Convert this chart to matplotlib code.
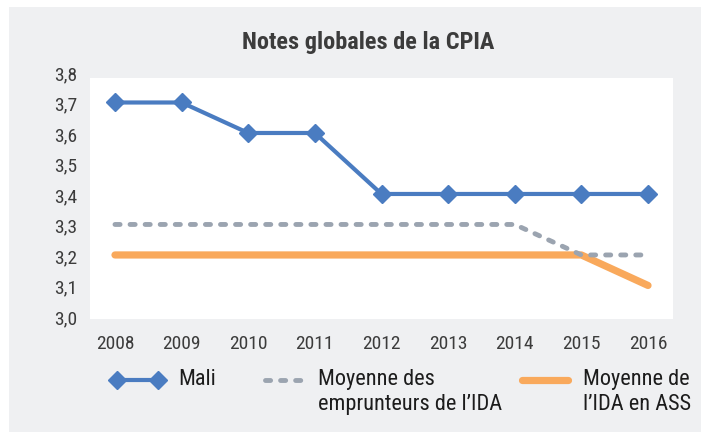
import matplotlib
matplotlib.use("Agg")
import matplotlib.pyplot as plt
from matplotlib.lines import Line2D
from matplotlib.patches import Rectangle
from matplotlib.ticker import FixedLocator, FuncFormatter

# data
years = ["2008", "2009", "2010", "2011", "2012", "2013", "2014", "2015", "2016"]
mali = [3.7, 3.7, 3.6, 3.6, 3.4, 3.4, 3.4, 3.4, 3.4]
ida_borrowers = [3.3, 3.3, 3.3, 3.3, 3.3, 3.3, 3.3, 3.2, 3.2]
ida_ssa = [3.2, 3.2, 3.2, 3.2, 3.2, 3.2, 3.2, 3.2, 3.1]
yticks = [3.0, 3.1, 3.2, 3.3, 3.4, 3.5, 3.6, 3.7, 3.8]

title = "Notes globales de la CPIA"
labels = ["Mali", "Moyenne des\nemprunteurs de l\u2019IDA", "Moyenne de\nl\u2019IDA en ASS"]

BLUE, GREY, ORANGE = "#4a7cc1", "#9ba4b0", "#f9a95c"
BG, TXT = "#eff0f2", "#3c3c3c"
FONT = ["Roboto Condensed", "Liberation Sans Narrow", "DejaVu Sans"]
plt.rcParams["font.family"] = FONT

W, H = 701, 435
fig = plt.figure(figsize=(W / 100, H / 100), dpi=100)
fig.patch.set_facecolor("white")


def fx(px):
    return px / W


def fy(py):
    return 1 - py / H


# grey panel behind everything
fig.patches.append(Rectangle((fx(9), fy(433)), fx(W - 9), fy(8) - fy(433),
                             transform=fig.transFigure, facecolor=BG,
                             edgecolor="none", zorder=-10))

ax = fig.add_axes([fx(90), fy(320), fx(673) - fx(90), fy(73) - fy(320)])
ax.set_facecolor("none")
# white plotting area (starts a little below the 3,8 tick, as in the source)
ax.add_patch(Rectangle((0, 0), 1, (320 - 79) / (320 - 73), transform=ax.transAxes,
                       facecolor="white", edgecolor="none", zorder=0))

x = list(range(len(years)))
ax.plot(x, ida_ssa, color=ORANGE, lw=5.2, solid_capstyle="round", zorder=2)
ax.plot(x, ida_borrowers, color=GREY, lw=3.5, dash_capstyle="round",
        dashes=(1.05, 2.05), zorder=3)
ax.plot(x, mali, color=BLUE, lw=3, marker="D", markersize=9.5,
        markeredgecolor=BLUE, zorder=4)

ax.set_xlim(-0.375, len(years) - 1 + 0.375)
ax.set_ylim(2.99, 3.8)
ax.xaxis.set_major_locator(FixedLocator(x))
ax.set_xticklabels(years)
ax.yaxis.set_major_locator(FixedLocator(yticks))
ax.yaxis.set_major_formatter(FuncFormatter(lambda v, _: f"{v:.1f}".replace(".", ",")))
ax.tick_params(axis="both", length=0, labelsize=14, colors=TXT)
ax.tick_params(axis="x", pad=11)
ax.tick_params(axis="y", pad=9)
for s in ax.spines.values():
    s.set_visible(False)

fig.text(fx(368), fy(42), title, ha="center", va="center", fontsize=17.5,
         fontweight="bold", color=TXT)

# legend, drawn by hand to keep the Excel-style layout
ly = fy(381)
fig.add_artist(Line2D([fx(117), fx(158)], [ly, ly], transform=fig.transFigure,
                      color=BLUE, lw=3, marker="D", markersize=9.5))
fig.add_artist(Line2D([fx(265), fx(304)], [ly, ly], transform=fig.transFigure,
                      color=GREY, lw=3.5, dash_capstyle="round", dashes=(1.05, 2.05)))
fig.add_artist(Line2D([fx(522), fx(568)], [ly, ly], transform=fig.transFigure,
                      color=ORANGE, lw=5.2, solid_capstyle="round"))
for px, lab in zip([178, 318, 583], labels):
    fig.text(fx(px), fy(369), lab, ha="left", va="top", fontsize=16,
             color="#1c1c1c", linespacing=1.27)

fig.savefig("out.png", dpi=100, facecolor=fig.get_facecolor())
